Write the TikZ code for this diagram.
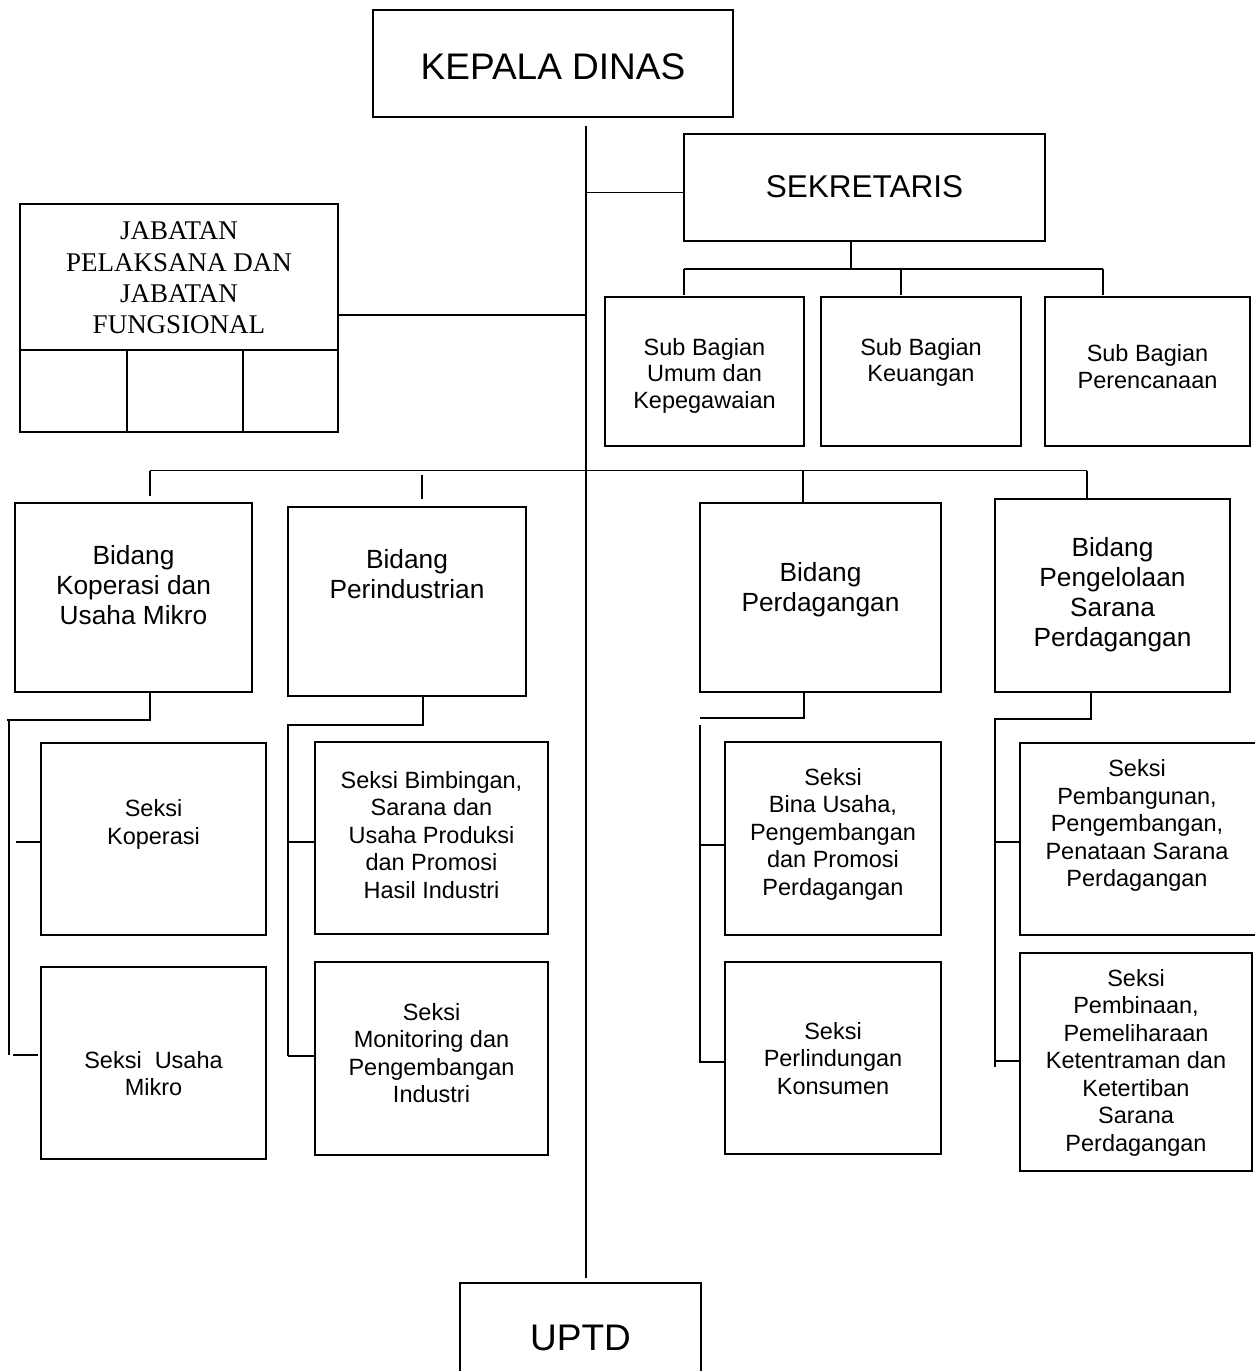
\documentclass[tikz,border=0pt]{standalone}
\usepackage{fontspec}
\setmainfont{Liberation Sans}
\newfontfamily\jabfont{Liberation Serif}
\begin{document}
\begin{tikzpicture}[x=1pt,y=-1pt,
  box/.style={draw, line width=2pt, rectangle, inner sep=0pt, outer sep=0pt},
  conn/.style={line width=1.9pt},
  txt/.style={inner sep=0pt, outer sep=0pt, align=center, anchor=north},
  fseksi/.style={font=\fontsize{23.5pt}{27.5pt}\selectfont},
  fsub/.style={font=\fontsize{23.5pt}{26.7pt}\selectfont},
  fbid/.style={font=\fontsize{26.3pt}{30pt}\selectfont},
  fjab/.style={font=\jabfont\fontsize{27pt}{31.3pt}\selectfont},
  fbig/.style={font=\fontsize{37pt}{42.5pt}\selectfont},
  fsek/.style={font=\fontsize{31.5pt}{36.2pt}\selectfont}]
\useasboundingbox (0,0) rectangle (1254,1371);
\fill[white] (0,0) rectangle (1254,1371);

% boxes
\node[box, minimum width=360pt, minimum height=107pt] (kd) at (553,63.5) {};
\node[box, minimum width=361pt, minimum height=107pt] (sek) at (864.5,187.5) {};
\node[box, minimum width=199pt, minimum height=149pt] (sb1) at (704.5,371.5) {};
\node[box, minimum width=200pt, minimum height=149pt] (sb2) at (921,371.5) {};
\node[box, minimum width=205pt, minimum height=149pt] (sb3) at (1147.5,371.5) {};
\node[box, minimum width=318pt, minimum height=228pt] (jab) at (179,318) {};
\node[box, minimum width=237pt, minimum height=189pt] (bk) at (133.5,597.5) {};
\node[box, minimum width=238pt, minimum height=189pt] (bi) at (407,601.5) {};
\node[box, minimum width=241pt, minimum height=189pt] (bp) at (820.5,597.5) {};
\node[box, minimum width=235pt, minimum height=193pt] (bs) at (1112.5,595.5) {};
\node[box, minimum width=225pt, minimum height=192pt] (sk) at (153.5,839) {};
\node[box, minimum width=225pt, minimum height=192pt] (su) at (153.5,1063) {};
\node[box, minimum width=233pt, minimum height=192pt] (sbim) at (431.5,838) {};
\node[box, minimum width=233pt, minimum height=193pt] (smon) at (431.5,1058.5) {};
\node[box, minimum width=216pt, minimum height=193pt] (sbin) at (833,838.5) {};
\node[box, minimum width=216pt, minimum height=192pt] (sper) at (833,1058) {};
\node[box, minimum width=242pt, minimum height=192pt] (spem) at (1141,839) {};
\node[box, minimum width=232pt, minimum height=218pt] (spbn) at (1136,1062) {};
\node[box, minimum width=241pt, minimum height=102pt] (uptd) at (580.5,1334) {};

% JABATAN inner cells
\coordinate (jd) at (20,350);
\coordinate (jv1) at (127,350);
\coordinate (jv2) at (243,350);
\draw[conn] (jd -| jab.west) -- (jd -| jab.east);
\draw[conn] (jv1) -- (jv1 |- jab.south);
\draw[conn] (jv2) -- (jv2 |- jab.south);

% texts
\node[txt, fbig] (tkd) at (553,49.5) {\strut KEPALA DINAS};
\node[txt, fsek] (tsek) at (864.5,172) {\strut SEKRETARIS};
\node[txt, fbig] (tuptd) at (580.5,1320.5) {\strut UPTD};
\node[txt, fsub] (tsb1) at (704.5,336.4) {\strut Sub Bagian\\\strut Umum dan\\\strut Kepegawaian};
\node[txt, fsub] (tsb2) at (921,336.4) {\strut Sub Bagian\\\strut Keuangan};
\node[txt, fsub] (tsb3) at (1147.5,343) {\strut Sub Bagian\\\strut Perencanaan};
\node[txt, fjab] (tjab) at (179,218) {\strut JABATAN\\\strut PELAKSANA DAN\\\strut JABATAN\\\strut FUNGSIONAL};
\node[txt, fbid] (tbk) at (133.5,543.4) {\strut Bidang\\\strut Koperasi dan\\\strut Usaha Mikro};
\node[txt, fbid] (tbi) at (407,547.1) {\strut Bidang\\\strut Perindustrian};
\node[txt, fbid] (tbp) at (820.5,560.9) {\strut Bidang\\\strut Perdagangan};
\node[txt, fbid] (tbs) at (1112.5,535.4) {\strut Bidang\\\strut Pengelolaan\\\strut Sarana\\\strut Perdagangan};
\node[txt, fseksi] (tsk) at (153.5,797.7) {\strut Seksi\\\strut Koperasi};
\node[txt, fseksi] (tsu) at (153.5,1049.2) {\strut Seksi~ Usaha\\\strut Mikro};
\node[txt, fseksi] (tsbim) at (431.5,769.2) {\strut Seksi Bimbingan,\\\strut Sarana dan\\\strut Usaha Produksi\\\strut dan Promosi\\\strut Hasil Industri};
\node[txt, fseksi] (tsmon) at (431.5,1001.2) {\strut Seksi\\\strut Monitoring dan\\\strut Pengembangan\\\strut Industri};
\node[txt, fseksi] (tsbin) at (833,766) {\strut Seksi\\\strut Bina Usaha,\\\strut Pengembangan\\\strut dan Promosi\\\strut Perdagangan};
\node[txt, fseksi] (tsper) at (833,1019.9) {\strut Seksi\\\strut Perlindungan\\\strut Konsumen};
\node[txt, fseksi] (tspem) at (1137,757.7) {\strut Seksi\\\strut Pembangunan,\\\strut Pengembangan,\\\strut Penataan Sarana\\\strut Perdagangan};
\node[txt, fseksi] (tspbn) at (1136,967.2) {\strut Seksi\\\strut Pembinaan,\\\strut Pemeliharaan\\\strut Ketentraman dan\\\strut Ketertiban\\\strut Sarana\\\strut Perdagangan};

% main spine
\coordinate (mtop) at (586,126);
\coordinate (mbot) at (586,1278);
\draw[conn] (mtop) -- (mbot);
\coordinate (m1) at (586,192.5);
\draw[conn] (m1) -- (m1 -| sek.west);
\coordinate (m2) at (586,315);
\draw[conn] (jab.east |- m2) -- (m2);

% sekretaris tree
\coordinate (sd) at (851,269);
\draw[conn] (sd |- sek.south) -- (sd);
\coordinate (sbl) at (684,269);
\coordinate (sbr) at (1103,269);
\coordinate (sbm) at (901,269);
\draw[conn] (sbl) -- (sbr);
\draw[conn] (sbl) -- (684,295);
\draw[conn] (sbm) -- (901,295);
\draw[conn] (sbr) -- (1103,295);

% bidang bar
\coordinate (bbl) at (150,470.5);
\coordinate (bbr) at (1087,470.5);
\coordinate (bbp) at (803,470.5);
\draw[conn] (bbl) -- (bbr);
\draw[conn] (bbl) -- (150,496);
\draw[conn] (422,475) -- (422,499);
\draw[conn] (bbp) -- (bbp |- bp.north);
\draw[conn] (bbr) -- (bbr |- bs.north);

% koperasi subtree
\coordinate (k1) at (150,720);
\draw[conn] (k1 |- bk.south) -- (k1) -- (7,720);
\draw[conn] (9,720) -- (9,1055);
\draw[conn] (16,842) -- (41,842);
\draw[conn] (13,1055) -- (38,1055);

% perindustrian subtree
\coordinate (p1) at (423,725);
\draw[conn] (p1 |- bi.south) -- (p1) -- (288,725) -- (288,1056);
\draw[conn] (288,842) -- (315,842);
\draw[conn] (288,1056) -- (315,1056);

% perdagangan subtree
\coordinate (d1) at (804,718);
\draw[conn] (d1 |- bp.south) -- (d1) -- (700,718);
\draw[conn] (700,725) -- (700,1062) -- (725,1062);
\draw[conn] (700,845) -- (725,845);

% pengelolaan subtree
\coordinate (g1) at (1091,719);
\draw[conn] (g1 |- bs.south) -- (g1) -- (995,719) -- (995,1067);
\draw[conn] (995,842) -- (1020,842);
\draw[conn] (995,1061) -- (1020,1061);
\end{tikzpicture}
\end{document}
